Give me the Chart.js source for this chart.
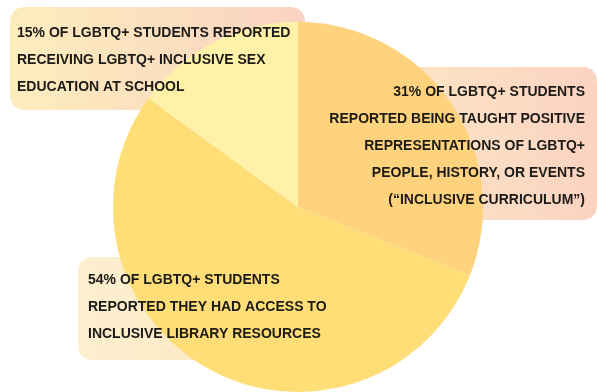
<!DOCTYPE html>
<html>
<head>
<meta charset="utf-8">
<script src="https://cdn.jsdelivr.net/npm/chart.js@4/dist/chart.umd.min.js"></script>
<style>
  html, body { margin: 0; padding: 0; background: #ffffff; }
  #wrap { position: relative; width: 597px; height: 392px; }
</style>
</head>
<body>
<div id="wrap"><canvas id="c" width="597" height="392"></canvas></div>
<script>
// ---- data ----
const categories = ["Inclusive curriculum", "Inclusive library resources", "Inclusive sex education"];
const values = [31, 54, 15];
const sliceColors = ["#FFD27E", "#FFDD77", "#FFF2A8"];

const labelCurriculum = [
  "31% OF LGBTQ+ STUDENTS",
  "REPORTED BEING TAUGHT POSITIVE",
  "REPRESENTATIONS OF LGBTQ+",
  "PEOPLE, HISTORY, OR EVENTS",
  "(\u201CINCLUSIVE CURRICULUM\u201D)"
];
const labelLibrary = [
  "54% OF LGBTQ+ STUDENTS",
  "REPORTED THEY HAD ACCESS TO",
  "INCLUSIVE LIBRARY RESOURCES"
];
const labelSexEd = [
  "15% OF LGBTQ+ STUDENTS REPORTED",
  "RECEIVING LGBTQ+ INCLUSIVE SEX",
  "EDUCATION AT SCHOOL"
];

// ---- annotation boxes ----
const boxes = [
  { x: 10, y: 7, w: 295, h: 103, from: "#FDEDBD", to: "#FAD2C2", lines: labelSexEd, align: "left", tx: 17, ty: 33 },
  { x: 330, y: 67, w: 267, h: 153, from: "#FDEBC6", to: "#FBD3C1", lines: labelCurriculum, align: "right", tx: 585, ty: 92 },
  { x: 78, y: 257, w: 260, h: 103, from: "#FDF0CF", to: "#FBE2BE", lines: labelLibrary, align: "left", tx: 88, ty: 280 }
];

function roundRect(ctx, x, y, w, h, r) {
  ctx.beginPath();
  ctx.moveTo(x + r, y);
  ctx.lineTo(x + w - r, y);
  ctx.quadraticCurveTo(x + w, y, x + w, y + r);
  ctx.lineTo(x + w, y + h - r);
  ctx.quadraticCurveTo(x + w, y + h, x + w - r, y + h);
  ctx.lineTo(x + r, y + h);
  ctx.quadraticCurveTo(x, y + h, x, y + h - r);
  ctx.lineTo(x, y + r);
  ctx.quadraticCurveTo(x, y, x + r, y);
  ctx.closePath();
}

const boxPlugin = {
  id: "boxes",
  beforeDatasetsDraw(chart) {
    const ctx = chart.ctx;
    ctx.save();
    boxes.forEach(b => {
      const g = ctx.createLinearGradient(b.x, 0, b.x + b.w, 0);
      g.addColorStop(0, b.from);
      g.addColorStop(1, b.to);
      ctx.fillStyle = g;
      roundRect(ctx, b.x, b.y, b.w, b.h, 16);
      ctx.fill();
    });
    ctx.restore();
  },
  afterDatasetsDraw(chart) {
    const ctx = chart.ctx;
    ctx.save();
    ctx.fillStyle = "#1c1a17";
    ctx.font = "bold 14px 'Liberation Sans', Arial, sans-serif";
    ctx.textBaseline = "middle";
    boxes.forEach(b => {
      ctx.textAlign = b.align;
      b.lines.forEach((t, i) => {
        ctx.fillText(t, b.tx, b.ty + i * 27);
      });
    });
    ctx.restore();
  }
};

new Chart(document.getElementById("c"), {
  type: "pie",
  data: {
    labels: categories,
    datasets: [{
      data: values,
      backgroundColor: sliceColors,
      borderWidth: 0,
      hoverOffset: 0
    }]
  },
  options: {
    responsive: false,
    animation: false,
    rotation: 0,
    layout: { padding: { left: 112, right: 113, top: 22, bottom: 0 } },
    plugins: {
      legend: { display: false },
      tooltip: { enabled: false }
    }
  },
  plugins: [boxPlugin]
});
</script>
</body>
</html>
